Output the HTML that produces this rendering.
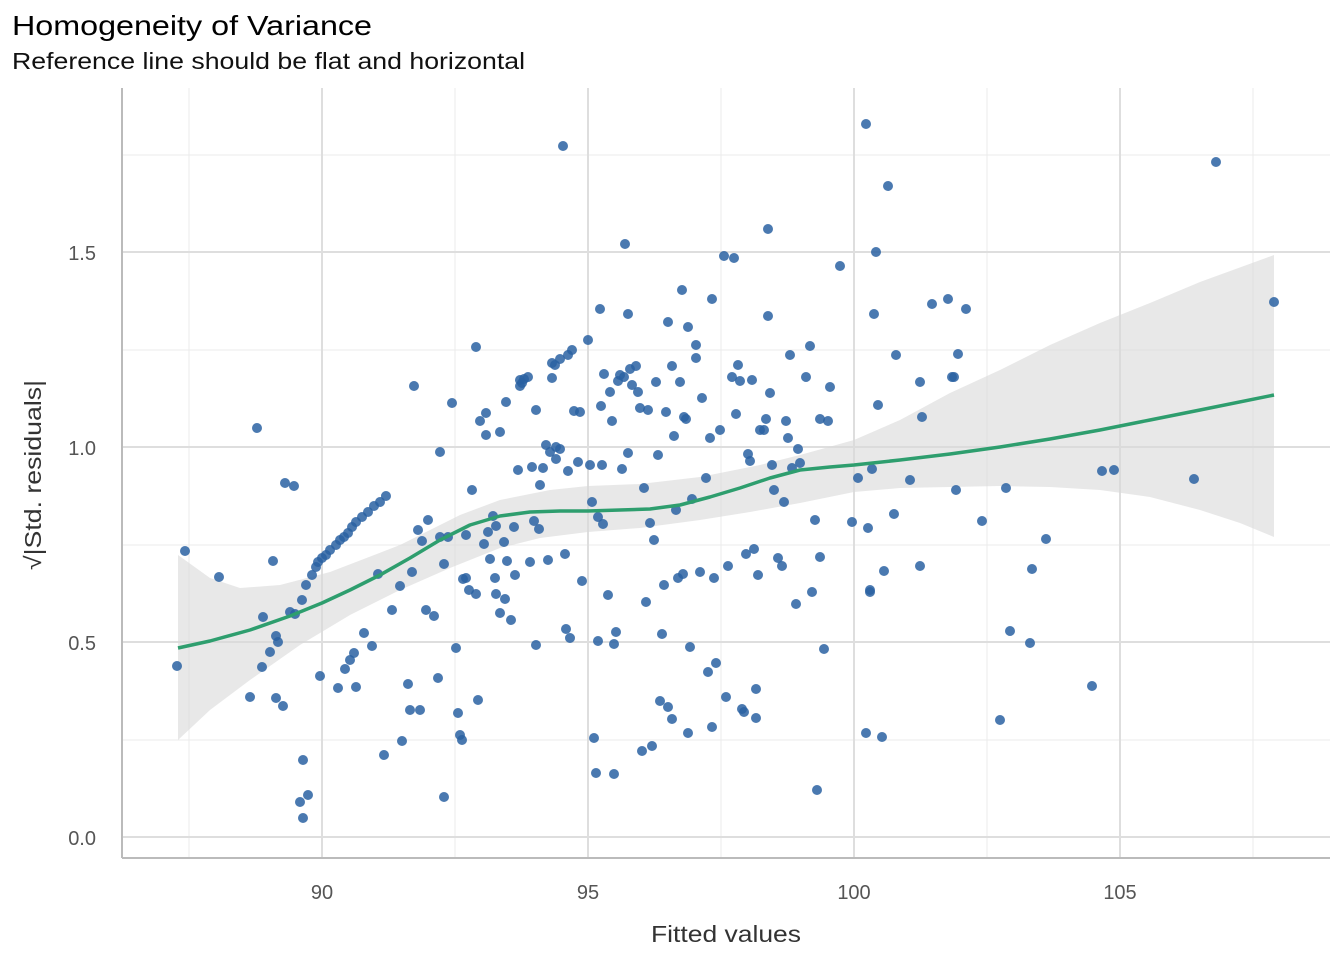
<!DOCTYPE html>
<html><head><meta charset="utf-8"><style>
body{margin:0;background:#fff;width:1344px;height:960px;overflow:hidden;font-family:"Liberation Sans",sans-serif;}
</style></head><body>
<svg width="1344" height="960" xmlns="http://www.w3.org/2000/svg" font-family="Liberation Sans, sans-serif">
<text x="12" y="35" font-size="28" fill="#000" textLength="360" lengthAdjust="spacingAndGlyphs">Homogeneity of Variance</text>
<text x="12" y="69" font-size="23" fill="#111" textLength="513" lengthAdjust="spacingAndGlyphs">Reference line should be flat and horizontal</text>
<g stroke="#ebebeb" stroke-width="1">
<line x1="122" x2="1330" y1="740" y2="740"/><line x1="122" x2="1330" y1="545" y2="545"/><line x1="122" x2="1330" y1="350" y2="350"/><line x1="122" x2="1330" y1="155" y2="155"/>
<line x1="189" x2="189" y1="88" y2="858"/><line x1="455" x2="455" y1="88" y2="858"/><line x1="721" x2="721" y1="88" y2="858"/><line x1="987" x2="987" y1="88" y2="858"/><line x1="1253" x2="1253" y1="88" y2="858"/>
</g>
<g stroke="#dedede" stroke-width="2">
<line x1="122" x2="1330" y1="837" y2="837"/><line x1="122" x2="1330" y1="642" y2="642"/><line x1="122" x2="1330" y1="447" y2="447"/><line x1="122" x2="1330" y1="252" y2="252"/>
<line x1="322" x2="322" y1="88" y2="858"/><line x1="588" x2="588" y1="88" y2="858"/><line x1="854" x2="854" y1="88" y2="858"/><line x1="1120" x2="1120" y1="88" y2="858"/>
</g>
<line x1="122" x2="122" y1="88" y2="858" stroke="#bbb" stroke-width="2"/>
<line x1="122" x2="1330" y1="858" y2="858" stroke="#bbb" stroke-width="2"/>
<g font-size="20" fill="#555" text-anchor="end">
<text x="96" y="845">0.0</text><text x="96" y="650">0.5</text><text x="96" y="455">1.0</text><text x="96" y="260">1.5</text>
</g>
<g font-size="20" fill="#555" text-anchor="middle">
<text x="322" y="899">90</text><text x="588" y="899">95</text><text x="854" y="899">100</text><text x="1120" y="899">105</text>
</g>
<text x="726" y="942" font-size="23" fill="#333" text-anchor="middle" textLength="150" lengthAdjust="spacingAndGlyphs">Fitted values</text>
<text transform="translate(41,475) rotate(-90)" font-size="23" fill="#333" text-anchor="middle" textLength="190" lengthAdjust="spacingAndGlyphs">√|Std. residuals|</text>
<path d="M178,555 L210,578 L240,588 L280,585 L330,572 L400,545 L460,515 L500,500 L550,490 L588,486 L640,484 L700,477 L760,465 L800,455 L854,440 L900,420 L950,393 L1000,370 L1050,345 L1100,323 L1150,303 L1200,282 L1274,255 L1274,537 L1240,523 L1200,510 L1150,497 L1100,490 L1050,487 L1000,486 L950,487 L900,488 L854,492 L800,503 L750,512 L700,520 L640,528 L588,532 L540,538 L500,548 L450,568 L400,590 L350,615 L300,645 L250,680 L210,710 L178,740 Z" fill="#d9d9d9" fill-opacity="0.6"/>
<g id="pts" fill="#2a62a2" fill-opacity="0.85"></g>
<path d="M178,648 L210,641 L250,630 L290,616 L322,603 L350,590 L380,575 L410,558 L440,540 L470,525 L500,516 L530,512 L560,511 L588,511 L620,510 L650,509 L680,505 L710,497 L740,488 L770,478 L800,470 L830,467 L854,465 L900,460 L950,454 L1000,447 L1050,439 L1100,430 L1150,420 L1200,410 L1274,395" fill="none" stroke="#2e9e6e" stroke-width="3.5" stroke-linejoin="round"/>
</svg>
<script>
var P=[[177,666],[185,551],[219,577],[257,428],[250,697],[263,617],[273,561],[262,667],[270,652],[276,636],[278,642],[276,698],[283,706],[285,483],[294,486],[290,612],[295,614],[302,600],[303,760],[300,802],[303,818],[308,795],[306,585],[312,575],[316,567],[318,562],[322,558],[326,555],[330,550],[336,545],[340,540],[344,537],[348,533],[352,527],[356,522],[362,517],[368,512],[374,506],[380,502],[386,496],[320,676],[338,688],[345,669],[350,660],[354,653],[356,687],[364,633],[372,646],[378,574],[384,755],[392,610],[400,586],[402,741],[408,684],[410,710],[412,572],[418,530],[414,386],[420,710],[422,541],[426,610],[428,520],[434,616],[438,678],[440,452],[440,537],[444,797],[444,564],[448,537],[452,403],[456,648],[458,713],[460,735],[462,740],[463,579],[466,578],[466,535],[469,590],[472,490],[476,594],[476,347],[478,700],[480,421],[484,544],[486,413],[486,435],[488,532],[490,559],[493,516],[495,578],[496,526],[500,613],[496,594],[500,432],[504,542],[505,599],[507,561],[506,402],[511,620],[514,527],[515,575],[518,470],[520,386],[520,380],[522,383],[524,379],[528,377],[530,562],[532,467],[534,521],[536,645],[536,410],[539,529],[540,485],[543,468],[546,445],[550,452],[548,560],[552,378],[552,363],[555,365],[556,447],[556,459],[560,449],[560,359],[563,146],[565,554],[566,629],[568,355],[568,471],[570,638],[572,350],[574,411],[578,462],[580,412],[582,581],[588,340],[590,465],[592,502],[594,738],[596,773],[598,641],[598,517],[600,309],[601,406],[602,465],[603,524],[604,374],[608,595],[610,392],[612,421],[614,774],[614,644],[616,632],[618,381],[620,375],[622,469],[624,377],[625,244],[628,314],[628,453],[630,369],[632,385],[636,366],[638,392],[640,408],[642,751],[644,488],[646,602],[648,410],[650,523],[652,746],[654,540],[656,382],[658,455],[660,701],[662,634],[664,585],[666,412],[668,322],[668,707],[672,719],[672,366],[674,436],[676,510],[678,578],[680,382],[682,290],[683,574],[684,417],[686,419],[688,733],[688,327],[690,647],[692,499],[696,345],[696,358],[700,572],[702,398],[706,478],[708,672],[710,438],[712,299],[712,727],[714,578],[716,663],[720,430],[724,256],[726,697],[728,566],[732,377],[734,258],[736,414],[738,365],[740,381],[742,709],[744,712],[746,554],[748,454],[750,461],[752,380],[754,549],[756,689],[756,718],[758,575],[760,430],[764,430],[766,419],[768,316],[768,229],[770,393],[772,465],[774,490],[778,558],[782,566],[784,502],[786,421],[788,438],[790,355],[792,468],[796,604],[798,449],[800,463],[806,377],[810,346],[812,592],[815,520],[817,790],[820,557],[820,419],[824,649],[828,421],[830,387],[840,266],[852,522],[858,478],[866,124],[866,733],[868,528],[870,592],[870,590],[872,469],[874,314],[876,252],[878,405],[882,737],[884,571],[888,186],[894,514],[896,355],[910,480],[920,566],[920,382],[922,417],[932,304],[948,299],[952,377],[954,377],[956,490],[958,354],[966,309],[982,521],[1000,720],[1006,488],[1010,631],[1030,643],[1032,569],[1046,539],[1092,686],[1102,471],[1114,470],[1194,479],[1216,162],[1274,302]];
var g=document.getElementById('pts'),s='';
P.forEach(function(p){s+='<circle cx="'+p[0]+'" cy="'+p[1]+'" r="5"/>';});
g.innerHTML=s;
</script>
</body></html>
